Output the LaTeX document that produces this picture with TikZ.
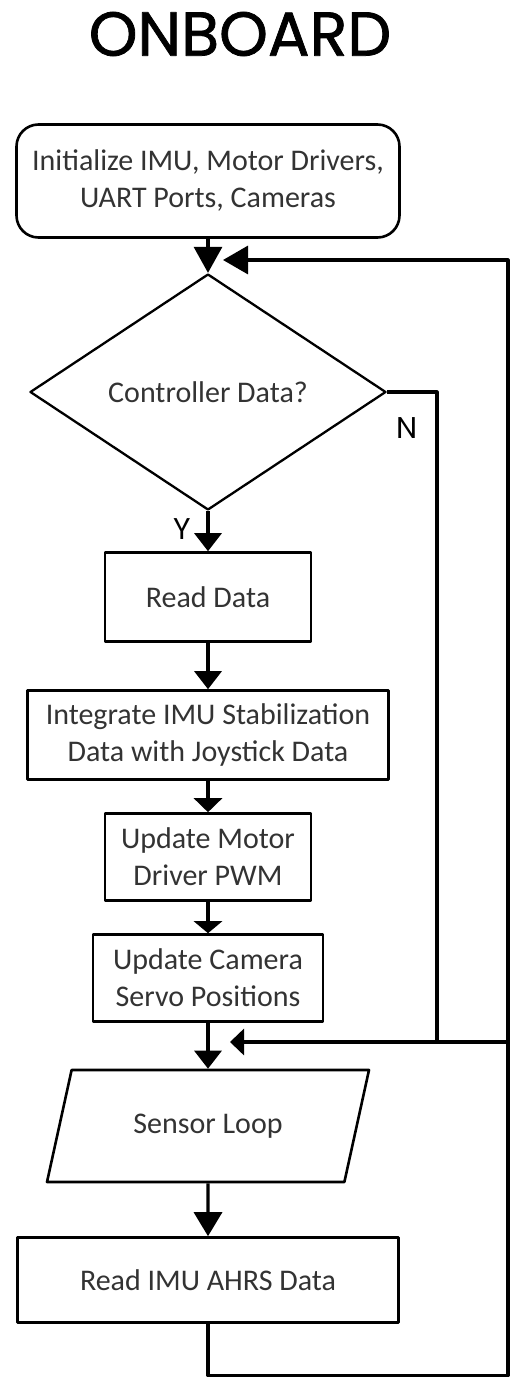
\documentclass[tikz,border=0pt]{standalone}
\usepackage{fontspec}
\setmainfont{Carlito}
\newfontfamily\titlefont[FakeBold=1.2]{Poppins}
\newfontfamily\ynfont{Poppins}
\usetikzlibrary{shapes.geometric,arrows.meta}
\definecolor{txtgray}{HTML}{333333}
\tikzset{
  box/.style={draw, line width=2.6pt, align=center, text=txtgray,
    font=\fontsize{30}{37}\selectfont, inner sep=0pt},
  flow/.style={->, line width=3.2pt},
  yn/.style={font=\ynfont\fontsize{30}{30}\selectfont}
}
\begin{document}
\begin{tikzpicture}[line join=round, x=1pt, y=-1pt, line width=3.2pt,
  >={Triangle[length=18pt,width=27pt]}]
	\useasboundingbox (0,0) rectangle (512,1378);
	\node[font=\titlefont\fontsize{62}{62}\selectfont] (title) at (240,34) {ONBOARD};
	% steps
	\node[box, rounded corners=22pt, minimum width=383pt, minimum height=113pt] (init) at (208,181) {Initialize IMU, Motor Drivers,\\UART Ports, Cameras};
	\node[box, diamond, line width=2.3pt, minimum width=356pt, minimum height=236pt] (ctrl) at (208,392) {Controller Data?};
	\node[box, minimum width=206pt, minimum height=89pt] (read) at (208,597) {Read Data};
	\node[box, minimum width=361pt, minimum height=89pt] (integ) at (208,735) {Integrate IMU Stabilization\\Data with Joystick Data};
	\node[box, minimum width=206pt, minimum height=87pt] (motor) at (208,857) {Update Motor\\Driver PWM};
	\node[box, minimum width=230pt, minimum height=87pt] (camera) at (208,978) {Update Camera\\Servo Positions};
	\node[box, trapezium, trapezium left angle=77.6, trapezium right angle=102.4, trapezium stretches body=true,
	  inner ysep=42pt, minimum width=322pt, text depth=7pt, text height=21pt] (sensor) at (208,1126) {Sensor Loop};
	\node[box, minimum width=381pt, minimum height=85pt] (imu) at (208,1280) {Read IMU AHRS Data};
	% loop points
	\coordinate (topin) at (223,260);
	\coordinate (rtop) at (508,260);
	\coordinate (rbot) at (508,1375.5);
	\coordinate (nturn) at (437,392);
	\coordinate (njoin) at (437,1042);
	\coordinate (rjoin) at (508,1042);
	\coordinate (midin) at (230,1042);
	% arrows
	\draw[flow, >={Triangle[length=26pt,width=28pt]}] (init) -- (ctrl);
	\draw[flow] (ctrl) -- node[yn, left=12pt, pos=0.45] (ylab) {Y} (read);
	\draw[flow] (read) -- (integ);
	\draw[flow, >={Triangle[length=14pt,width=28pt]}] (integ) -- (motor);
	\draw[flow, >={Triangle[length=12pt,width=28pt]}] (motor) -- (camera);
	\draw[flow] (camera) -- (sensor);
	\draw[flow, >={Triangle[length=24pt,width=28pt]}] (sensor) -- (imu);
	\draw (ctrl.east) -- (nturn) -- (njoin);
	\node[yn] (nlab) at (407,428) {N};
	\draw[flow, >={Triangle[length=14pt,width=26pt]}] (rjoin) -- (midin);
	\draw[flow, >={Triangle[length=25pt,width=28pt]}] (imu.south) -- (imu.south |- rbot) -- (rbot) -- (rtop) -- (topin);
\end{tikzpicture}
\end{document}
